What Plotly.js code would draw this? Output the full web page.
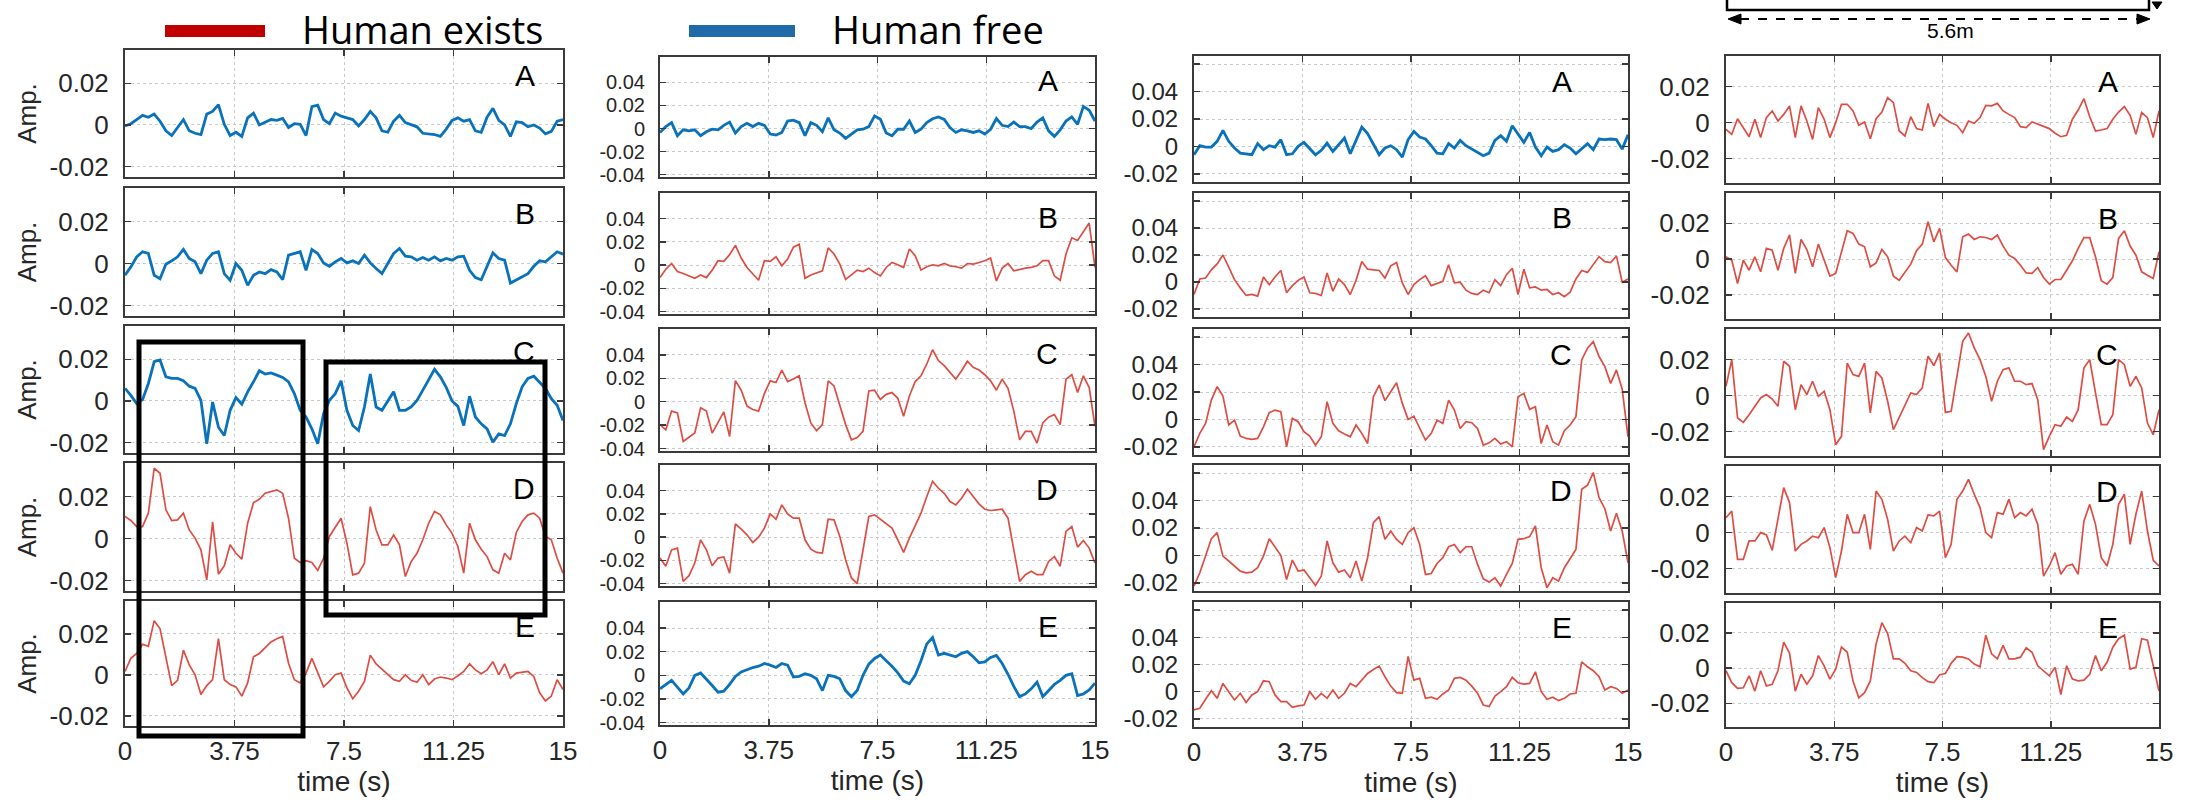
<!DOCTYPE html>
<html><head><meta charset="utf-8">
<script src="https://cdn.plot.ly/plotly-3.0.1.min.js"></script>
<style>html,body{margin:0;padding:0;background:#fff}#chart{width:2190px;height:802px}</style>
</head><body><div id="chart"></div>
<script>
// ---------------- DATA ----------------
const time_s = [
 0,0.2,0.4,0.6,0.8,1,1.2,1.4,1.6,1.8,
 2,2.2,2.4,2.6,2.8,3,3.2,3.4,3.6,3.8,
 4,4.2,4.4,4.6,4.8,5,5.2,5.4,5.6,5.8,
 6,6.2,6.4,6.6,6.8,7,7.2,7.4,7.6,7.8,
 8,8.2,8.4,8.6,8.8,9,9.2,9.4,9.6,9.8,
 10,10.2,10.4,10.6,10.8,11,11.2,11.4,11.6,11.8,
 12,12.2,12.4,12.6,12.8,13,13.2,13.4,13.6,13.8,
 14,14.2,14.4,14.6,14.8,15];
const xTickVals = [0, 3.75, 7.5, 11.25, 15];
const xTickText = ['0', '3.75', '7.5', '11.25', '15'];
const rowLabels = ['A', 'B', 'C', 'D', 'E'];
const legendLabels = ['Human exists', 'Human free'];
const scaleLabel = '5.6m';
// amplitudes in units of 1e-3
const col1_A = [-0.5,0.6,2.6,4.6,3.7,5.2,1.8,-2.8,-5.1,-1.2, 2.6,-2.8,-4.0,-4.6,5.2,6.5,9.8,0.3,-5.1,-3.5, -5.5,3.4,5.7,0,1.5,2.6,2.2,3.1,-1.2,0.6, 0.3,-5.1,8.8,9.5,2.6,0.6,5.7,4.2,3.4,2.6, -0.5,2.6,6.5,3.4,-2.8,-3.5,1.8,4.6,1.1,0, -0.9,-4.0,-4.3,-4.6,-5.5,-2.0,2.2,3.4,1.8,2.6, -2.8,-3.5,3.7,8.0,2.2,0,-5.5,1.5,1.1,-0.9, 0,-1.5,-4.3,-3.1,1.8,2.6];
const col1_B = [-5.6,-1.6,3.2,5.6,4.8,-5.6,-7.2,-0.3,1.3,3.2, 6.7,2.4,0.8,-4.8,1.6,4.8,5.6,-4.8,-8.0,0, -3.2,-10.4,-5.6,-4.0,-4.8,-2.9,-4.0,-7.7,4.0,4.8, 5.6,-3.2,6.7,4.8,0.3,-1.3,0.8,2.4,0.3,1.3, 0,4.0,0.3,-2.4,-4.8,0,4.8,7.2,3.5,3.2, 1.6,2.9,1.6,3.2,1.3,2.4,1.6,3.2,3.5,-3.2, -6.7,-7.7,-1.6,5.1,2.4,1.6,-9.3,-7.7,-6.4,-4.8, -1.3,1.3,0.8,3.2,5.6,4.5];
const col1_C = [6.0,2.7,-1.3,0.6,8.4,18.9,19.7,11.6,10.8,10.8, 9.7,7.1,6.0,0.3,-20.6,-0.5,-12.6,-16.6,-4.5,1.6, -1.6,4.4,9.2,14.5,12.9,13.5,12.4,11.3,9.2,3.5, -4.5,-7.7,-13.4,-20.6,-6.1,0.3,3.5,9.7,-4.5,-11.8, -14.2,-2.9,12.9,-2.9,-4.5,0.3,4.4,-4.5,-4.5,-2.9, 0.3,5.2,10.0,15.2,11.6,6.5,0,-2.6,-11.8,2.3, -7.7,-11.0,-13.4,-19.8,-15.8,-16.6,-11.0,-1.3,6.8,10.8, 11.9,8.7,6.0,1.1,-2.1,-9.4];
const col1_D = [10.5,8.6,5.7,5.7,12.1,33.5,31.1,13.7,8.6,8.9, 12.1,4.1,0.2,-5.4,-19.7,8.0,-17.0,-13.0,-3.0,-7.0, -9.8,7.3,17.1,18.7,21.6,22.4,23.2,21.6,9.7,-9.4, -11.4,-10.5,-11.4,-15.2,-9.4,1.0,5.7,9.7,-2.2,-17.3, -16.5,-11.7,15.2,4.1,-3.0,-3.0,1.7,-3.0,-18.1,-11.0, -7.0,-0.6,7.3,12.9,11.3,6.5,2.5,-3.8,-16.5,7.3, -0.6,-5.1,-8.6,-14.9,-16.5,-7.0,-10.2,2.9,8.1,11.3, 12.1,9.7,1.0,-0.6,-9.4,-16.5];
const col1_E = [1.6,8.0,10.4,14.9,13.9,26.4,22.4,8.8,-5.3,-2.7, 12.0,4.8,0,-9.6,-5.3,-2.4,17.6,-2.4,-4.8,-5.9, -10.4,-4.0,8.8,10.4,13.3,16.0,17.6,18.7,5.6,-2.4, -4.0,0.8,8.0,0.8,-5.9,-3.2,0,0.8,-6.4,-11.7, -8.0,-3.2,9.6,5.3,2.7,0,-2.4,-3.2,0,-2.7, -3.7,0,-4.8,-2.1,-1.1,-1.6,-2.4,-0.5,1.6,5.3, 2.4,0.5,2.4,6.4,0,5.3,-1.6,0.8,1.1,1.6, -0.8,-8.8,-12.8,-10.4,-2.4,-7.2];
const col2_A = [-3.4,1.7,5.1,-6.2,-1.1,-2.0,-1.1,-6.2,-2.8,-0.6, -1.1,2.8,5.6,-3.9,1.7,4.5,1.7,4.5,2.8,-4.8, -5.6,-3.4,6.5,7.3,5.1,-6.2,5.1,2.8,-2.8,9.3, -1.1,-3.9,-8.5,-4.8,-1.1,-0.6,1.7,11.0,8.0,-3.9, -6.2,-0.6,-0.6,6.5,-3.4,-0.6,5.1,8.5,10.1,7.9, 0.8,-3.4,-1.1,-2.0,-3.4,-2.0,-4.8,-0.6,8.7,2.8, 1.7,5.6,1.7,1.7,0,5.6,9.3,-2.0,-6.8,-1.1, 6.5,10.1,3.7,19.2,15.8,6.5];
const col2_B = [-10.7,-3.5,1.4,-5.5,-7.2,-9.3,-11.3,-8.4,-10.7,-4.3, 3.8,3.2,9.0,17.0,6.1,-2.0,-7.8,-13.0,3.8,3.2, 7.2,-0.6,5.2,15.4,18.0,-11.3,-8.4,-6.4,-4.9,14.8, 9.6,0.9,-12.2,-8.4,-4.3,-5.5,-2.6,-6.4,-9.3,-2.0, 2.3,0.3,-2.0,13.9,8.1,-4.3,-1.4,0.3,-0.6,1.4, -0.6,-1.4,-2.6,1.4,0.9,2.3,3.8,6.1,-13.6,-2.6, 1.4,-4.9,-3.5,-2.6,-2.0,-0.6,3.8,3.8,-9.3,-13.0, 9.6,23.5,21.2,28.4,36.2,-2.0];
const col2_C = [-19.5,-23.9,-8.0,-9.5,-33.9,-30.5,-26.7,-5.2,-8.0,-26.7, -18.1,-8.6,-29.6,18.0,9.8,-3.7,-6.6,-8.0,6.9,17.8, 16.4,27.0,17.2,19.3,22.1,-0.9,-18.1,-24.7,-19.5,17.8, 13.5,-2.3,-19.5,-32.5,-30.5,-25.3,9.2,9.8,2.0,6.3, 7.8,2.9,-12.4,4.9,17.2,22.1,32.2,44.3,35.1,30.7, 25.0,19.3,26.4,34.5,29.3,27.0,23.0,17.8,9.8,19.3, 11.5,-8.0,-32.5,-25.3,-25.3,-35.3,-18.1,-13.2,-10.9,-19.5, 19.3,23.0,7.8,22.1,12.1,-21.0];
const col2_D = [-18.0,-25.1,-10.9,-9.4,-38.0,-33.1,-22.3,-2.3,-10.9,-24.6, -18.0,-17.1,-30.9,11.4,6.9,2.0,-4.6,0,7.7,20.0, 15.4,27.7,20.0,16.3,16.3,-2.3,-10.3,-13.1,-13.7,15.4, 14.9,0.6,-19.4,-35.1,-40.0,-10.9,17.7,19.1,15.4,11.4, 7.7,-2.3,-13.1,-0.9,9.7,20.6,34.9,48.0,42.0,37.7, 30.6,27.7,33.4,41.1,34.9,28.6,24.0,22.9,23.4,24.0, 16.3,-10.9,-38.0,-32.3,-29.4,-32.3,-32.3,-20.9,-16.6,-25.0, 4.9,9.1,-8.6,-2.9,-9.4,-22.3];
const col2_E = [-11.4,-7.7,-4.3,-10.0,-15.7,-10.6,0,2.0,-2.9,-8.6, -14.3,-13.4,-7.7,-0.9,2.9,4.9,6.6,7.7,10.0,8.6, 6.6,10.0,8.6,-1.4,-0.9,1.4,0,-2.9,-12.9,0, -0.9,-2.9,-12.9,-18.0,-12.9,0,9.4,14.3,17.1,12.3, 7.7,2.0,-4.9,-7.1,0,12.3,26.6,32.0,17.1,18.6, 17.1,15.7,18.6,20.0,15.7,10.6,11.4,15.1,16.9,10.0, 0.9,-9.4,-18.0,-15.7,-11.4,-5.7,-18.0,-12.9,-7.7,-4.3, 0,1.4,-17.1,-15.7,-12.3,-6.6];
const col3_A = [-6.1,0.5,-0.5,-0.5,3.7,11.7,3.7,-1.2,-4.9,-5.4, -6.1,2.0,-2.4,0.5,-0.5,4.9,-6.1,-5.4,0,2.9, -2.0,-6.1,-2.9,2.4,-3.7,1.2,6.1,-5.4,4.4,14.1, 9.3,2.0,-6.1,-1.2,0.5,-2.4,-7.8,4.9,11.0,6.8, 5.4,0.5,-4.9,-5.4,2.0,-1.2,4.4,0.5,-2.0,-4.4, -6.8,-4.9,4.4,7.8,3.7,15.1,8.5,2.9,10.2,-0.5, -6.8,-0.5,-3.7,-2.4,1.2,-1.2,-5.4,-2.0,2.0,-2.4, 5.4,4.9,5.4,4.9,-2.0,8.5];
const col3_B = [-9.3,2.2,2.9,9.0,13.4,20.0,11.0,1.7,-4.4,-10.0, -9.3,-10.5,3.7,-2.0,3.7,8.5,-8.0,-2.7,1.2,3.7, -8.0,-8.5,-10.0,6.6,-6.8,2.2,-2.0,-9.3,1.2,15.1, 9.5,9.0,8.5,2.9,12.0,14.4,-0.7,-9.3,-2.0,1.7, 4.6,-2.7,-1.2,0.5,12.7,-0.7,-0.2,-6.1,-8.5,-9.3, -6.1,-8.0,1.7,-2.7,5.4,10.2,-9.3,9.5,-4.4,-3.7, -6.1,-5.6,-9.3,-8.0,-11.0,-7.6,2.2,8.5,7.1,13.4, 18.8,15.1,14.4,19.3,-0.2,2.2];
const col3_C = [-20.0,-10.2,-2.9,14.1,23.9,17.1,-4.1,-0.5,-12.2,-13.9, -14.6,-13.9,-5.4,4.9,6.8,5.6,-20.0,0.7,-1.7,-9.0, -12.2,-18.8,-12.7,12.9,-2.9,-8.3,-10.7,-12.7,-4.1,-10.2, -17.6,16.6,25.1,13.7,20.2,26.8,11.7,0,2.4,-6.6, -15.1,-10.2,-0.5,-2.9,14.1,6.8,-6.6,-1.7,-2.4,-6.6, -18.8,-17.1,-13.9,-18.0,-16.3,-20.0,16.6,19.0,7.3,9.3, -17.6,-4.1,-16.3,-18.8,-8.3,-4.1,2.0,43.4,52.0,56.8, 45.9,38.5,26.3,36.1,22.0,-12.7];
const col3_D = [-22.4,-12.7,-0.5,12.2,16.6,-0.5,-4.1,-7.8,-11.5,-12.7, -12.2,-9.0,-0.5,12.2,6.3,0,-17.6,-3.4,-11.5,-10.7, -16.3,-22.0,-15.1,10.5,-5.4,-12.2,-10.7,-16.3,-4.1,-18.8, -1.7,23.9,28.3,11.7,17.8,11.7,8.0,16.6,20.2,8.0, -13.9,-13.2,-5.9,-1.7,6.3,8.0,2.0,6.3,6.3,-6.6, -17.1,-19.5,-16.3,-22.4,-13.9,-5.9,11.7,12.2,13.7,21.5, -9.0,-23.7,-16.3,-18.8,-9.0,-2.4,4.4,48.3,51.2,60.5, 42.2,34.1,17.8,30.7,17.8,-5.4];
const col3_E = [-13.4,-12.2,-5.6,0.7,-4.9,6.1,0,-6.1,-1.2,-8.0, -2.4,0,8.0,7.3,-2.4,-7.3,-7.3,-11.5,-10.5,-9.8, 0,-5.6,-1.2,-4.9,1.2,-4.9,-1.2,6.1,3.7,8.5, 13.4,16.3,18.8,11.0,4.1,-0.7,-1.2,26.0,8.5,9.8, -4.9,-4.1,-5.6,-1.7,1.2,9.8,10.5,8.5,4.1,-1.2, -9.8,-11.0,-3.2,0,3.7,10.5,6.6,5.6,6.1,14.6, 0,-5.6,-4.1,-6.6,-4.9,-1.7,-1.2,22.0,18.3,15.4, 11.0,1.2,3.7,2.4,-1.2,1.2];
const col4_A = [-3.7,-6.5,2.2,-2.8,-7.8,1.9,-8.3,2.8,6.5,0.9, 4.6,9.3,-8.3,9.3,0.9,-9.3,8.3,1.9,-8.3,0, 10.2,10.2,6.5,-1.5,0.4,-8.9,2.2,5.9,13.9,11.1, -4.6,-7.4,3.3,-3.3,-4.1,10.7,-2.2,4.6,1.9,0, -1.5,-5.6,0.9,-0.4,2.8,9.6,9.3,10.7,6.5,4.6, 2.8,-2.2,-2.8,0.4,-0.9,-2.2,-3.3,-5.9,-7.8,-7.0, 1.9,7.0,13.3,3.3,-4.6,-4.1,-3.3,1.9,5.9,8.9, 4.1,-6.5,5.6,2.8,-8.3,6.5];
const col4_B = [1.3,-0.6,-13.6,-0.6,-6.2,1.3,-7.1,6.0,5.0,-6.2, 6.0,13.5,-8.0,11.0,5.4,-4.3,8.4,-0.6,-9.5,-8.0, 3.6,15.9,14.4,8.4,6.9,-4.3,-2.1,5.4,1.3,-9.5, -11.8,-7.1,-2.8,4.7,8.4,20.9,9.7,17.2,0.9,-3.4, -7.1,12.5,14.0,11.0,12.5,12.1,11.0,13.5,7.3,2.2, 0.4,-3.4,-7.7,-8.0,-4.7,-10.3,-14.0,-11.4,-11.4,-6.2, -0.9,6.0,12.0,12.0,1.3,-12.1,-14.0,-10.3,11.6,15.9, 7.3,2.2,-7.1,-9.0,-10.8,4.1];
const col4_C = [5.2,20.0,-12.4,-14.8,-10.6,-5.9,-1.3,0.6,-1.9,-5.9, 19.1,16.3,-7.8,6.1,0.6,8.0,-0.4,2.4,-7.8,-27.2, -22.6,18.1,11.7,10.7,18.1,-9.6,13.5,9.8,-3.1,-18.9, -12.4,-5.0,1.5,0.6,4.3,21.9,16.7,23.7,-9.3,-8.7, 10.7,30.2,34.8,26.5,20.0,10.7,-3.1,8.0,14.4,15.4, 8.0,8.0,6.1,6.7,-2.2,-30.0,-22.6,-16.1,-17.0,-11.9, -14.3,-7.8,15.4,20.0,1.5,-16.1,-16.1,-10.6,20.0,17.2, 5.2,10.7,4.3,-15.2,-21.7,-7.8];
const col4_D = [8.3,12.0,-14.8,-14.8,-4.6,-4.6,0,-1.3,-9.8,8.3, 25.0,16.7,-10.2,-6.5,-4.6,-1.9,-2.8,2.8,-8.3,-25.0, -10.2,10.2,0,0,10.2,-9.3,23.1,18.5,7.4,-10.2, -4.6,-1.9,-5.6,2.8,0.9,9.8,9.3,12.0,-13.9,-6.5, 18.5,23.1,29.6,21.3,13.9,0,-2.8,11.1,10.2,18.5, 8.3,11.1,9.3,13.0,4.6,-24.1,-18.5,-11.1,-23.1,-18.5, -17.6,-23.1,6.5,15.7,4.6,-13.9,-18.5,-6.5,15.7,21.3, -6.5,10.2,23.1,0.9,-15.4,-18.5];
const col4_E = [-1.5,-8.3,-11.5,-11.2,-4.4,-13.1,-1.5,-10.2,-9.2,-1.5, 14.8,8.5,-13.1,-3.5,-9.2,-4.4,7.1,1.3,-6.3,-0.6, 11.9,9.0,-7.3,-16.9,-14.0,-7.3,13.8,25.8,19.6,5.2, 5.2,2.7,-1.5,-2.5,-5.4,-7.7,-8.3,-3.8,-3.1,2.7, 6.5,6.2,5.2,2.3,0.8,18.7,8.1,5.2,12.9,5.2, 5.2,6.2,11.5,9.0,1.3,-1.5,-4.4,0.4,-15.0,1.3, -6.3,-7.3,-6.9,-3.5,7.1,-1.5,3.3,11.9,16.7,18.7, -0.6,0.4,16.7,15.8,0.4,-13.1];

// which condition each panel shows: 'exists' (red) or 'free' (blue)
const panelState = [
  ['free','free','free','exists','exists'],
  ['free','exists','exists','exists','free'],
  ['free','exists','exists','exists','exists'],
  ['exists','exists','exists','exists','exists']];
const panelData = [
  [col1_A, col1_B, col1_C, col1_D, col1_E],
  [col2_A, col2_B, col2_C, col2_D, col2_E],
  [col3_A, col3_B, col3_C, col3_D, col3_E],
  [col4_A, col4_B, col4_C, col4_D, col4_E]];

// ---------------- STYLE / LAYOUT ----------------
const W = 2190, H = 802;
const RED = '#DE4D44', BLUE = '#0A72BA';
const colX = [[125,563],[660,1095],[1194,1628],[1726,2159]];
const rowY = [
  [[50,177],[188,316],[326,453],[463,591],[601,726]],
  [[57,177],[193,314],[329,451],[465,586],[602,725]],
  [[56,182],[193,317],[329,455],[465,591],[602,727]],
  [[56,183],[193,319],[329,456],[466,593],[603,727]]];
const yRanges = [[-0.025,0.036],[-0.042,0.062],[-0.026,0.066],[-0.0335,0.037]];
const yTicks = [
  {v:[-0.02,0,0.02], t:['-0.02','0','0.02']},
  {v:[-0.04,-0.02,0,0.02,0.04], t:['-0.04','-0.02','0','0.02','0.04']},
  {v:[-0.02,0,0.02,0.04,0.06], t:['-0.02','0','0.02','0.04','']},
  {v:[-0.02,0,0.02], t:['-0.02','0','0.02']}];
const yTickSize = [26, 20, 24, 26];
const letterX = [0.94, 0.92, 0.875, 0.91];

const FONT = 'Liberation Sans, Arial, Helvetica, sans-serif';
const TXT = '#262626';
const px = x => x / W;
const py = y => 1 - y / H;

const traces = [];
const layout = {
  width: W, height: H,
  margin: {l:0, r:0, t:0, b:0},
  paper_bgcolor: '#fff', plot_bgcolor: '#fff',
  showlegend: false,
  font: {family: FONT, color: TXT, size: 26},
  shapes: [], annotations: []
};

for (let c = 0; c < 4; c++) {
  for (let r = 0; r < 5; r++) {
    const idx = c*5 + r + 1;
    const xa = idx === 1 ? 'xaxis' : 'xaxis' + idx;
    const ya = idx === 1 ? 'yaxis' : 'yaxis' + idx;
    const xr = idx === 1 ? 'x' : 'x' + idx;
    const yr = idx === 1 ? 'y' : 'y' + idx;
    const isBlue = panelState[c][r] === 'free';
    traces.push({
      type: 'scatter', mode: 'lines',
      x: time_s,
      y: panelData[c][r].map(v => v / 1000),
      xaxis: xr, yaxis: yr,
      line: {color: isBlue ? BLUE : RED, width: isBlue ? 2.8 : 1.7},
      hoverinfo: 'skip'
    });
    const common = {
      showline: true, mirror: 'ticks', linecolor: '#3a3a3a', linewidth: 2,
      ticks: 'inside', ticklen: 6, tickwidth: 1.5, tickcolor: '#3a3a3a',
      showgrid: true, gridcolor: '#cacaca', griddash: 'dot', gridwidth: 1,
      zeroline: false, fixedrange: true
    };
    layout[xa] = Object.assign({}, common, {
      domain: [px(colX[c][0]), px(colX[c][1])],
      anchor: yr, range: [0, 15],
      tickmode: 'array', tickvals: xTickVals, ticktext: xTickText,
      tickfont: {family: FONT, size: 26, color: TXT},
      showticklabels: r === 4, ticklabelstandoff: 1
    });
    if (r === 4) {
      layout[xa].title = {text: 'time (s)', font: {family: FONT, size: 28, color: TXT}, standoff: 6};
    }
    layout[ya] = Object.assign({}, common, {
      domain: [py(rowY[c][r][1]), py(rowY[c][r][0])],
      anchor: xr, range: yRanges[c],
      tickmode: 'array', tickvals: yTicks[c].v, ticktext: yTicks[c].t,
      tickfont: {family: FONT, size: yTickSize[c], color: TXT},
      ticklabelstandoff: 9
    });
    if (c === 0) {
      layout[ya].title = {text: 'Amp.', font: {family: FONT, size: 26, color: TXT}, standoff: 5};
    }
    layout.annotations.push({
      xref: xr + ' domain', yref: yr + ' domain',
      x: letterX[c], y: 0.80, xanchor: 'right', yanchor: 'middle',
      text: rowLabels[r], showarrow: false,
      font: {family: FONT, size: 30, color: '#000'}
    });
  }
}

// Legend (drawn at top)
layout.shapes.push({type:'rect', xref:'paper', yref:'paper', x0:px(165), x1:px(265), y0:py(37), y1:py(25), fillcolor:'#C00000', line:{width:0}});
layout.shapes.push({type:'rect', xref:'paper', yref:'paper', x0:px(689), x1:px(795), y0:py(37), y1:py(25), fillcolor:'#1F6BAA', line:{width:0}});
layout.annotations.push({xref:'paper', yref:'paper', x:px(300), y:py(29), xanchor:'left', yanchor:'middle', text:legendLabels[0], showarrow:false, font:{family:'Open Sans, Lato, sans-serif', size:38, color:'#000'}});
layout.annotations.push({xref:'paper', yref:'paper', x:px(830), y:py(29), xanchor:'left', yanchor:'middle', text:legendLabels[1], showarrow:false, font:{family:'Open Sans, Lato, sans-serif', size:38, color:'#000'}});

// Highlight boxes on the first column
const BOX = {color:'#000', width:5};
layout.shapes.push({type:'rect', xref:'paper', yref:'paper', x0:px(139), x1:px(303), y0:py(736), y1:py(342), line:BOX, fillcolor:'rgba(0,0,0,0)'});
layout.shapes.push({type:'rect', xref:'paper', yref:'paper', x0:px(326), x1:px(545), y0:py(615), y1:py(362), line:BOX, fillcolor:'rgba(0,0,0,0)'});

// Room-size sketch fragment at top right
const K = {color:'#000', width:2.5};
layout.shapes.push({type:'path', xref:'paper', yref:'paper', path:`M ${px(1727)} ${py(-2)} L ${px(1727)} ${py(10)} L ${px(2149)} ${py(10)} L ${px(2149)} ${py(-2)}`, line:K});
layout.shapes.push({type:'path', xref:'paper', yref:'paper', path:`M ${px(2152)} ${py(2)} L ${px(2162)} ${py(2)} L ${px(2157)} ${py(9)} Z`, fillcolor:'#000', line:{color:'#000', width:1}});
layout.shapes.push({type:'line', xref:'paper', yref:'paper', x0:px(1740), x1:px(2138), y0:py(19), y1:py(19), line:{color:'#000', width:2, dash:'dash'}});
layout.shapes.push({type:'path', xref:'paper', yref:'paper', path:`M ${px(1728)} ${py(19)} L ${px(1741)} ${py(14)} L ${px(1741)} ${py(24)} Z`, fillcolor:'#000', line:{color:'#000', width:1}});
layout.shapes.push({type:'path', xref:'paper', yref:'paper', path:`M ${px(2150)} ${py(19)} L ${px(2137)} ${py(14)} L ${px(2137)} ${py(24)} Z`, fillcolor:'#000', line:{color:'#000', width:1}});
layout.annotations.push({xref:'paper', yref:'paper', x:px(1950), y:py(31), xanchor:'center', yanchor:'middle', text:scaleLabel, showarrow:false, font:{family:FONT, size:21, color:'#000'}});

Plotly.newPlot('chart', traces, layout, {staticPlot:true, displayModeBar:false});
</script>
</body></html>
